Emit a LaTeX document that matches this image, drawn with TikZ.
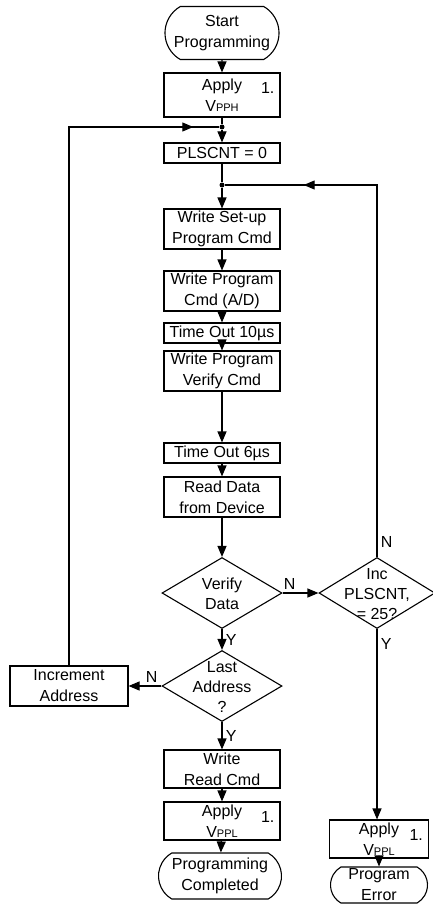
\documentclass[tikz,border=0pt]{standalone}
\usepackage{fontspec}
\setmainfont{Liberation Sans}
\usetikzlibrary{arrows.meta,shapes.geometric,shapes.misc,decorations.markings}

\tikzset{
  line/.style={line width=1.1pt},
  flow/.style={line, -{Triangle[length=11pt,width=9pt]}},
  backflow/.style={line, postaction={decorate},
    decoration={markings, mark=at position #1 with {\arrow{Triangle[length=11pt,width=9pt]}}}},
  box/.style={draw, line, align=center, minimum width=116pt, inner sep=2pt},
  term/.style={draw, line, rounded rectangle, rounded rectangle arc length=120,
    align=center, minimum width=116pt, minimum height=46pt, inner sep=1pt},
  decision/.style={draw, line, diamond, minimum width=120pt, minimum height=71pt, inner sep=0pt},
  junction/.style={circle, fill, inner sep=0pt, minimum size=5pt},
  footmark/.style={label={[anchor=north east, inner sep=0pt, xshift=-6pt, yshift=-10pt]north east:1.}},
}
\newcommand{\vpp}[1]{V{\fontsize{11}{14}\selectfont #1}}
% diamond text: no size of its own, so the diamond keeps its given size
\newcommand{\dtext}[1]{\smash{\makebox[0pt]{\raisebox{-7pt}{\def\arraystretch{0.95}\begin{tabular}{@{}c@{}}#1\end{tabular}}}}}

\begin{document}
\begin{tikzpicture}[x=1pt, y=-1pt, font=\fontsize{16}{21}\selectfont]
  \useasboundingbox (0,0) rectangle (432,923);

  % main column
  \node[term, minimum height=53pt] (start) at (222,33) {Start\\Programming};
  \node[box, minimum height=44pt, footmark] (applyH) at (222,95) {Apply\\\vpp{PPH}};
  \node[junction] (j1) at (222,127) {};
  \node[box, minimum height=20pt] (plscnt) at (222,153) {PLSCNT = 0};
  \node[junction] (j2) at (222,185) {};
  \node[box, minimum height=38pt] (setup) at (222,229) {Write Set-up\\Program Cmd};
  \node[box, minimum height=38pt] (progcmd) at (222,291) {Write Program\\Cmd (A/D)};
  \node[box, minimum height=20pt] (wait10) at (222,333) {Time Out 10µs};
  \node[box, minimum height=37pt] (vercmd) at (222,371) {Write Program\\Verify Cmd};
  \node[box, minimum height=20pt] (wait6) at (222,453) {Time Out 6µs};
  \node[box, minimum height=40pt] (read) at (222,497) {Read Data\\from Device};
  \node[decision] (verify) at (222,593) {\dtext{Verify\\Data}};
  \node[decision] (last) at (222,686) {\dtext{Last\\Address\\?}};
  \node[box, minimum height=38pt] (wread) at (222,769) {Write\\Read Cmd};
  \node[box, minimum height=38pt, footmark] (applyL) at (222,821) {Apply\\\vpp{PPL}};
  \node[term, minimum width=125pt] (done) at (220,876) {Programming\\Completed};

  % side branches
  \node[box, minimum width=118pt, minimum height=40pt] (incaddr) at (69,686) {Increment\\Address};
  \node[decision, minimum width=116pt] (inc) at (377,593) {\dtext{Inc\\PLSCNT,\\= 25?}};
  \node[box, minimum width=99pt, minimum height=38pt, footmark] (applyR) at (379,839) {Apply\\\vpp{PPL}};
  \node[term, minimum width=99pt, minimum height=36pt] (error) at (379,885) {Program\\Error};

  \draw[flow] (start) -- (applyH);
  \draw[line] (applyH) -- (j1);
  \draw[flow] (j1) -- (plscnt);
  \draw[line] (plscnt) -- (j2);
  \draw[flow] (j2) -- (setup);
  \draw[flow] (setup) -- (progcmd);
  \draw[flow] (progcmd) -- (wait10);
  \draw[flow] (wait10) -- (vercmd);
  \draw[flow] (vercmd) -- (wait6);
  \draw[flow] (wait6) -- (read);
  \draw[flow] (read) -- (verify);
  \draw[flow] (verify) -- node[right]{Y} (last);
  \draw[flow] (verify) -- node[above, pos=0.2]{N} (inc);
  \draw[flow] (last) -- node[above, pos=0.3]{N} (incaddr);
  \draw[flow] (last) -- node[right]{Y} (wread);
  \draw[flow] (wread) -- (applyL);
  \draw[flow] (applyL) -- (done);
  \draw[flow] (inc.south) -- node[right, pos=0.08]{Y} (inc.south |- applyR.north);
  \draw[flow] (applyR) -- (error);

  % loops back to the junctions
  \draw[backflow=-26pt] (incaddr.north) |- (j1);
  \draw[backflow=-79pt] (inc.north) |- node[right, pos=0.02]{N} (j2);
\end{tikzpicture}
\end{document}
